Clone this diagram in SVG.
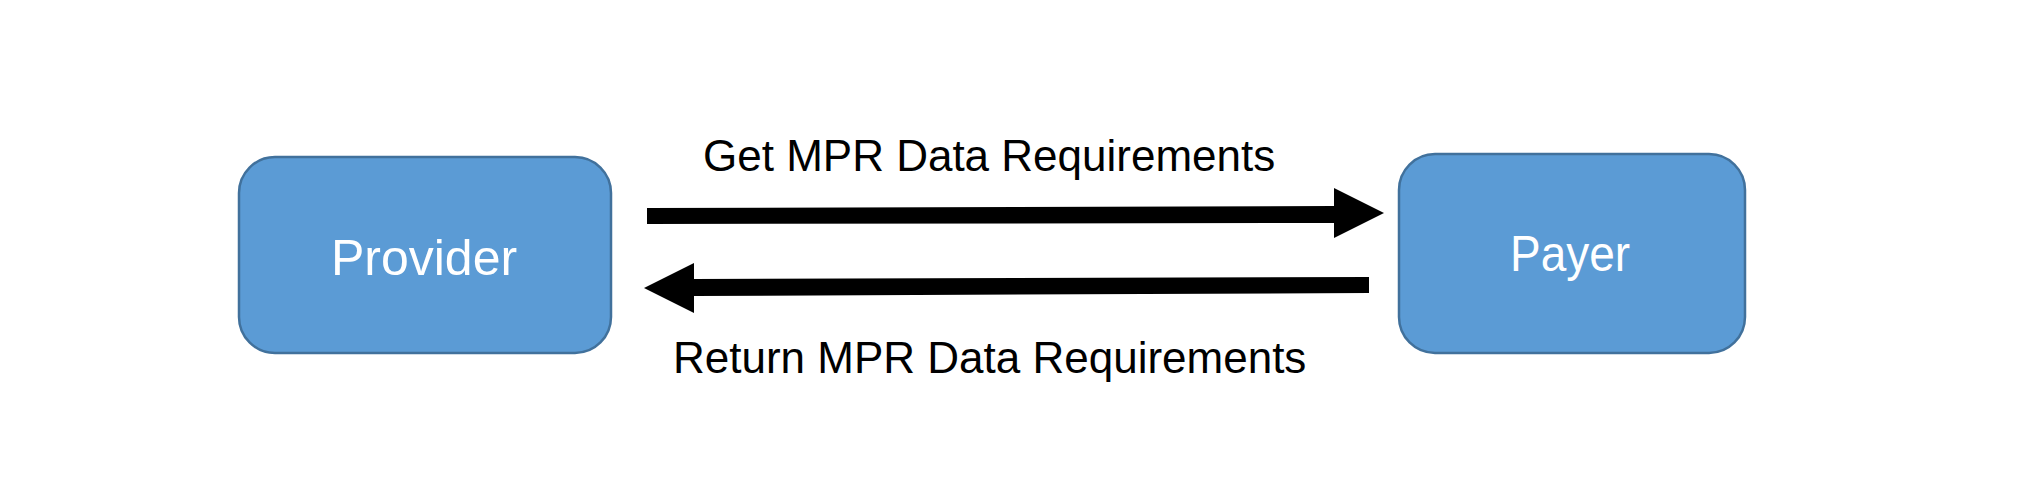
<svg xmlns="http://www.w3.org/2000/svg" width="2026" height="497" viewBox="0 0 2026 497">
<style>
.box{fill:#5B9BD5;stroke:#41719C;stroke-width:2.5}
.lbl{font-family:"Liberation Sans",Arial,sans-serif;font-size:50px;fill:#FFFFFF;text-anchor:middle}
.cap{font-family:"Liberation Sans",Arial,sans-serif;font-size:44px;fill:#000000}
.arr{fill:#000000}
</style>
<rect width="2026" height="497" fill="#FFFFFF"/>
<g id="provider">
<rect class="box" x="239" y="157" width="372" height="196" rx="36" ry="36"/>
<text class="lbl" x="424" y="275">Provider</text>
</g>
<g id="payer">
<rect class="box" x="1399" y="154" width="346" height="199" rx="36" ry="36"/>
<text class="lbl" x="1570" y="271" textLength="120" lengthAdjust="spacingAndGlyphs">Payer</text>
</g>
<g id="connectors">
<polygon class="arr" points="647,208 1334,206 1334,188 1384,213 1334,238 1334,223 647,224"/>
<polygon class="arr" points="1369,277 694,279 694,263 644,288 694,313 694,296 1369,293"/>
<text class="cap" x="703" y="171">Get MPR Data Requirements</text>
<text class="cap" x="673" y="373">Return MPR Data Requirements</text>
</g>
</svg>
